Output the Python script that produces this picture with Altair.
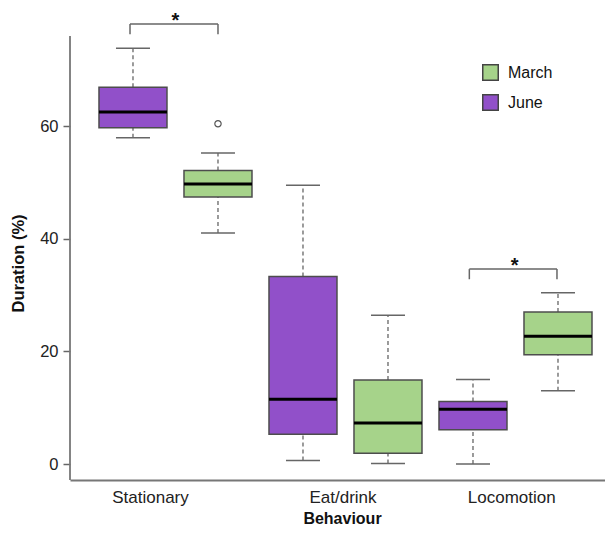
import altair as alt
import pandas as pd

# ---- data ----
behaviours = ["Stationary", "Stationary", "Eat/drink", "Eat/drink", "Locomotion", "Locomotion"]
months = ["June", "March", "June", "March", "June", "March"]
whisker_low = [57.9, 41.0, 0.6, 0.1, 0.0, 13.0]
q1 = [59.7, 47.4, 5.3, 1.9, 6.1, 19.4]
median = [62.5, 49.7, 11.5, 7.3, 9.7, 22.7]
q3 = [66.9, 52.1, 33.3, 14.9, 11.1, 27.0]
whisker_high = [73.8, 55.2, 49.5, 26.4, 15.0, 30.4]

outlier_behaviour = ["Stationary"]
outlier_month = ["March"]
outlier_value = [60.4]

category_labels = ["Stationary", "Eat/drink", "Locomotion"]
category_label_pos = [1.2, 3.465, 5.45]

sig_from = [0.965, 4.957]
sig_to = [2.0, 5.988]
sig_top = [78.1, 34.6]
sig_drop = [1.8, 1.8]

legend_order = ["March", "June"]
legend_colors = ["#A6D38A", "#9150C9"]

FONT = "Liberation Sans"
GREY = "#666666"

df = pd.DataFrame({
    "behaviour": behaviours, "month": months, "lo": whisker_low, "q1": q1,
    "med": median, "q3": q3, "hi": whisker_high,
})
df["pos"] = range(1, len(df) + 1)

out_df = pd.DataFrame({"behaviour": outlier_behaviour, "month": outlier_month, "v": outlier_value})
pos_map = {(b, m): p for b, m, p in zip(df.behaviour, df.month, df.pos)}
out_df["pos"] = [pos_map[(b, m)] for b, m in zip(out_df.behaviour, out_df.month)]

sig_df = pd.DataFrame({"a": sig_from, "b": sig_to, "top": sig_top, "drop": sig_drop})
sig_df["bottom"] = sig_df["top"] - sig_df["drop"]
sig_df["mid"] = (sig_df["a"] + sig_df["b"]) / 2
sig_df["star"] = "*"

XDOM = [0.259, 6.553]
YDOM = [-2.84, 80.95]

label_expr = " : ".join(
    f"abs(datum.value - {p}) < 0.3 ? '{l}'" for p, l in zip(category_label_pos, category_labels)
) + " : ''"

xs = alt.Scale(domain=XDOM, nice=False, zero=False)
ys = alt.Scale(domain=YDOM, nice=False, zero=False)

base = alt.Chart(df)

whisk_up = base.mark_rule(color=GREY, strokeWidth=1.3, strokeDash=[4, 3]).encode(
    x=alt.X("pos:Q", scale=xs, axis=alt.Axis(
        values=category_label_pos, labelExpr=label_expr, title="Behaviour",
        domain=True, domainColor="#777777", domainWidth=1.8, ticks=False,
        labelFontSize=17, labelColor="#222222", labelFont=FONT, labelPadding=9,
        titleFont=FONT, titleFontSize=16, titleFontWeight="bold", titleColor="#111111",
        titlePadding=5, titleX=272, grid=False)),
    y=alt.Y("q3:Q", scale=ys, axis=alt.Axis(
        values=[0, 20, 40, 60], title="Duration (%)", domain=False,
        tickSize=7, tickColor=GREY, tickWidth=1.5,
        labelFontSize=16.5, labelColor="#222222", labelFont=FONT, labelPadding=5,
        titleFont=FONT, titleFontSize=16.5, titleFontWeight="bold", titleColor="#111111",
        titlePadding=13, titleY=255, grid=False)),
    y2="hi:Q",
)
whisk_dn = base.mark_rule(color=GREY, strokeWidth=1.3, strokeDash=[4, 3]).encode(
    x="pos:Q", y="lo:Q", y2="q1:Q")

caps_hi = base.transform_calculate(l="datum.pos - 0.2", r="datum.pos + 0.2").mark_rule(
    color=GREY, strokeWidth=1.5).encode(x="l:Q", x2="r:Q", y="hi:Q")
caps_lo = base.transform_calculate(l="datum.pos - 0.2", r="datum.pos + 0.2").mark_rule(
    color=GREY, strokeWidth=1.5).encode(x="l:Q", x2="r:Q", y="lo:Q")

boxes = base.transform_calculate(l="datum.pos - 0.4", r="datum.pos + 0.4").mark_rect(
    stroke="#4d4d4d", strokeWidth=1.5).encode(
    x="l:Q", x2="r:Q", y="q1:Q", y2="q3:Q",
    fill=alt.Fill("month:N", scale=alt.Scale(domain=legend_order, range=legend_colors),
                  legend=alt.Legend(
                      title=None, orient="none", legendX=412, legendY=56,
                      symbolType="square", symbolSize=240, symbolStrokeColor="#444444",
                      symbolStrokeWidth=1.5, symbolOpacity=1,
                      labelFont=FONT, labelFontSize=16, labelColor="#111111",
                      labelOffset=9, rowPadding=7)),
)

medians = base.transform_calculate(l="datum.pos - 0.4", r="datum.pos + 0.4").mark_rule(
    color="black", strokeWidth=3).encode(x="l:Q", x2="r:Q", y="med:Q")

outliers = alt.Chart(out_df).mark_point(
    shape="circle", filled=False, color="#555555", size=40, strokeWidth=1.2, opacity=1).encode(
    x="pos:Q", y="v:Q")

sig = alt.Chart(sig_df)
sig_h = sig.mark_rule(color=GREY, strokeWidth=1.5).encode(x="a:Q", x2="b:Q", y="top:Q")
sig_l = sig.mark_rule(color=GREY, strokeWidth=1.5).encode(x="a:Q", y="bottom:Q", y2="top:Q")
sig_r = sig.mark_rule(color=GREY, strokeWidth=1.5).encode(x="b:Q", y="bottom:Q", y2="top:Q")
stars = sig.mark_text(font=FONT, fontSize=20, fontWeight="bold", color="#111111",
                      baseline="alphabetic", dy=2.5, dx=1.5).encode(x="mid:Q", y="top:Q", text="star:N")

yline = alt.Chart(pd.DataFrame({"k": [0]})).mark_rule(color="#777777", strokeWidth=1.8).encode(
    x=alt.value(0), y=alt.datum(YDOM[0]), y2=alt.datum(76.0))

chart = alt.layer(
    whisk_up, whisk_dn, caps_hi, caps_lo, boxes, medians, outliers,
    sig_h, sig_l, sig_r, stars, yline,
).properties(
    width=535, height=472,
    background="white",
    autosize=alt.AutoSizeParams(type="none"),
    padding={"left": 62, "top": 0, "right": 0, "bottom": 48},
).configure_view(stroke=None)

chart.save("out.html", embed_options={"renderer": "svg", "actions": False})
